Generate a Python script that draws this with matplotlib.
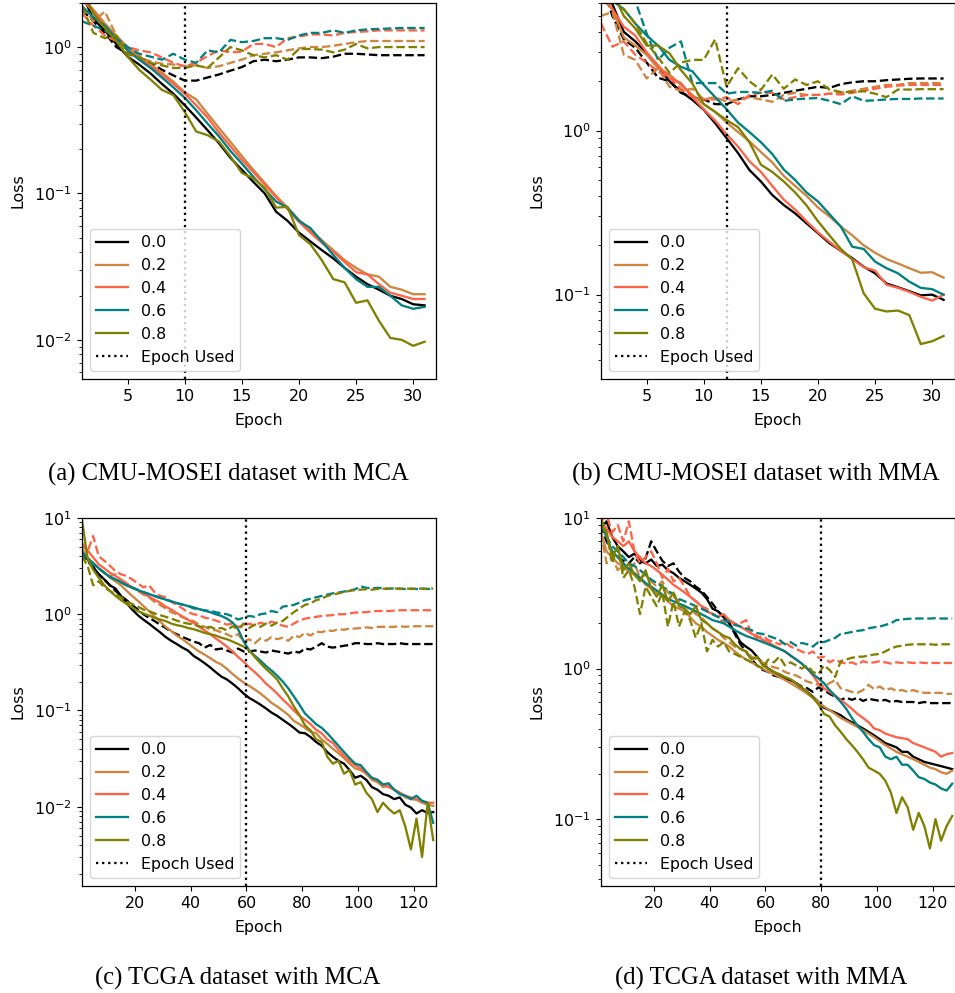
import matplotlib
matplotlib.use("Agg")
import matplotlib.pyplot as plt

# dropout rates and their colours
rates = ["0.0", "0.2", "0.4", "0.6", "0.8"]
colors = ["black", "peru", "tomato", "teal", "olive"]

# epochs
ep_short = list(range(1, 32))
ep_long = list(range(1, 128, 2))

# (a) CMU-MOSEI, MCA  -- solid = train, dashed = validation
a_tr_00 = [2.3, 1.55, 1.3, 1.05, 0.86, 0.76, 0.66, 0.56, 0.48, 0.40, 0.33, 0.27, 0.22, 0.175, 0.145, 0.12, 0.1, 0.075, 0.065, 0.054, 0.047, 0.041, 0.036, 0.031, 0.027, 0.024, 0.022, 0.020, 0.019, 0.0175, 0.0172]
a_tr_02 = [2.2, 1.8, 1.45, 1.2, 1.0, 0.87, 0.76, 0.67, 0.58, 0.49, 0.44, 0.35, 0.28, 0.225, 0.18, 0.145, 0.118, 0.096, 0.08, 0.066, 0.056, 0.048, 0.041, 0.035, 0.031, 0.028, 0.027, 0.023, 0.022, 0.0205, 0.0205]
a_tr_04 = [2.1, 1.75, 1.4, 1.15, 0.95, 0.84, 0.74, 0.65, 0.56, 0.48, 0.40, 0.33, 0.26, 0.21, 0.17, 0.14, 0.115, 0.094, 0.078, 0.064, 0.054, 0.046, 0.040, 0.034, 0.029, 0.028, 0.024, 0.021, 0.020, 0.019, 0.019]
a_tr_06 = [1.9, 1.6, 1.4, 1.15, 0.95, 0.82, 0.72, 0.62, 0.53, 0.45, 0.37, 0.30, 0.245, 0.195, 0.16, 0.13, 0.107, 0.088, 0.08, 0.065, 0.058, 0.047, 0.038, 0.031, 0.026, 0.023, 0.023, 0.020, 0.0172, 0.0163, 0.0168]
a_tr_08 = [2.4, 1.7, 1.35, 1.1, 0.86, 0.70, 0.60, 0.51, 0.47, 0.36, 0.265, 0.25, 0.226, 0.179, 0.138, 0.127, 0.109, 0.08, 0.081, 0.052, 0.045, 0.035, 0.026, 0.0247, 0.0179, 0.0186, 0.0135, 0.0103, 0.010, 0.0091, 0.0097]
a_va_00 = [1.8, 1.5, 1.25, 1.0, 0.9, 0.85, 0.78, 0.7, 0.64, 0.59, 0.59, 0.62, 0.65, 0.69, 0.73, 0.8, 0.82, 0.8, 0.82, 0.85, 0.85, 0.84, 0.86, 0.9, 0.9, 0.89, 0.88, 0.88, 0.88, 0.88, 0.88]
a_va_02 = [1.9, 1.5, 1.75, 1.2, 0.95, 0.85, 0.8, 0.77, 0.76, 0.74, 0.75, 0.72, 0.74, 0.78, 0.82, 0.88, 0.9, 0.92, 0.95, 0.98, 1.0, 1.0, 1.02, 1.05, 1.08, 1.1, 1.1, 1.1, 1.1, 1.1, 1.1]
a_va_04 = [1.7, 1.4, 1.2, 1.1, 1.0, 0.95, 0.92, 0.85, 0.78, 0.74, 0.78, 0.87, 0.95, 0.92, 0.93, 1.05, 1.05, 1.0, 1.15, 1.18, 1.22, 1.22, 1.2, 1.25, 1.27, 1.28, 1.3, 1.3, 1.3, 1.3, 1.3]
a_va_06 = [1.5, 1.4, 1.3, 1.15, 1.0, 0.9, 0.86, 0.82, 0.9, 0.82, 0.78, 0.95, 0.92, 1.12, 1.08, 1.1, 1.15, 1.15, 1.12, 1.2, 1.25, 1.25, 1.3, 1.25, 1.3, 1.32, 1.33, 1.34, 1.35, 1.35, 1.35]
a_va_08 = [1.9, 1.25, 1.15, 1.2, 0.9, 0.85, 0.78, 0.75, 0.72, 0.72, 0.75, 0.72, 0.85, 1.0, 0.95, 0.88, 0.85, 0.88, 0.82, 0.97, 0.97, 0.96, 0.92, 0.96, 1.05, 0.98, 1.0, 1.0, 1.0, 1.0, 1.0]

# (b) CMU-MOSEI, MMA
b_tr_00 = [8.0, 5.9, 4.0, 3.5, 2.96, 2.45, 2.0, 1.73, 1.54, 1.34, 1.11, 0.9, 0.73, 0.575, 0.49, 0.405, 0.352, 0.313, 0.272, 0.237, 0.206, 0.185, 0.167, 0.148, 0.135, 0.117, 0.111, 0.105, 0.099, 0.1, 0.093]
b_tr_02 = [6.5, 5.5, 3.7, 3.3, 2.9, 2.4, 2.2, 1.9, 1.65, 1.45, 1.3, 1.12, 0.98, 0.86, 0.74, 0.64, 0.53, 0.46, 0.4, 0.34, 0.3, 0.26, 0.23, 0.2, 0.18, 0.165, 0.155, 0.145, 0.136, 0.137, 0.127]
b_tr_04 = [7.0, 5.5, 4.3, 3.8, 3.0, 2.5, 2.1, 1.95, 1.6, 1.35, 1.15, 0.95, 0.8, 0.65, 0.56, 0.46, 0.38, 0.33, 0.28, 0.24, 0.21, 0.185, 0.165, 0.147, 0.14, 0.115, 0.11, 0.104, 0.097, 0.092, 0.1]
b_tr_06 = [8.0, 6.2, 5.5, 4.5, 3.8, 3.3, 2.7, 2.45, 2.3, 1.9, 1.6, 1.35, 1.12, 0.98, 0.85, 0.72, 0.58, 0.5, 0.42, 0.37, 0.31, 0.26, 0.196, 0.19, 0.159, 0.145, 0.135, 0.12, 0.11, 0.108, 0.1]
b_tr_08 = [8.0, 7.0, 5.0, 4.2, 3.3, 3.3, 2.96, 2.34, 1.94, 1.45, 1.3, 1.16, 1.05, 0.85, 0.62, 0.56, 0.49, 0.42, 0.35, 0.28, 0.23, 0.19, 0.164, 0.102, 0.082, 0.079, 0.08, 0.075, 0.05, 0.052, 0.056]
b_va_00 = [8.0, 5.0, 3.6, 3.2, 2.6, 2.1, 2.0, 1.7, 1.6, 1.55, 1.45, 1.45, 1.55, 1.62, 1.62, 1.65, 1.7, 1.75, 1.8, 1.85, 1.82, 1.92, 1.97, 2.0, 2.0, 2.03, 2.05, 2.07, 2.08, 2.08, 2.08]
b_va_02 = [5.0, 5.3, 2.9, 2.7, 2.08, 2.4, 1.85, 1.75, 1.8, 1.55, 1.6, 1.5, 1.55, 1.6, 1.55, 1.5, 1.65, 1.7, 1.65, 1.65, 1.68, 1.7, 1.75, 1.8, 1.85, 1.9, 1.9, 1.95, 1.95, 1.95, 1.95]
b_va_04 = [4.5, 3.25, 3.5, 2.9, 2.6, 2.3, 2.1, 1.8, 1.6, 1.55, 1.55, 1.6, 1.45, 1.65, 1.7, 1.7, 1.55, 1.6, 1.65, 1.65, 1.68, 1.66, 1.7, 1.75, 1.8, 1.85, 1.88, 1.9, 1.9, 1.9, 1.9]
b_va_06 = [9.0, 7.5, 6.5, 6.2, 3.9, 2.7, 3.2, 3.5, 1.95, 1.95, 1.95, 1.68, 1.72, 1.72, 1.7, 1.75, 1.52, 1.55, 1.57, 1.58, 1.52, 1.45, 1.62, 1.52, 1.53, 1.55, 1.56, 1.56, 1.57, 1.57, 1.57]
b_va_08 = [7.0, 6.5, 5.5, 4.5, 3.4, 2.8, 2.25, 2.6, 2.7, 2.7, 3.6, 1.85, 2.4, 2.0, 1.77, 2.2, 1.8, 2.05, 1.9, 2.0, 1.78, 1.72, 1.72, 1.74, 1.68, 1.6, 1.78, 1.78, 1.79, 1.79, 1.79]

# (c) TCGA, MCA  (every second epoch)
c_tr_00 = [4.5, 3.7, 3.1, 2.6, 2.3, 2.0, 1.85, 1.55, 1.3, 1.12,
           0.98, 0.88, 0.8, 0.72, 0.65, 0.58, 0.53, 0.49, 0.45, 0.42,
           0.37, 0.34, 0.31, 0.28, 0.25, 0.225, 0.21, 0.19, 0.17, 0.15,
           0.135, 0.125, 0.115, 0.105, 0.095, 0.088, 0.08, 0.073, 0.066, 0.059,
           0.058, 0.053, 0.047, 0.043, 0.037, 0.033, 0.03, 0.028, 0.024, 0.02,
           0.021, 0.019, 0.016, 0.015, 0.0135, 0.013, 0.012, 0.0125, 0.0105, 0.0098,
           0.0085, 0.0092, 0.0086, 0.0088]
c_tr_02 = [4.8, 3.9, 3.4, 3.0, 2.7, 2.4, 2.2, 2.0, 1.75, 1.55,
           1.38, 1.22, 1.08, 0.95, 0.84, 0.74, 0.67, 0.6, 0.55, 0.5,
           0.45, 0.41, 0.38, 0.35, 0.32, 0.3, 0.27, 0.24, 0.215, 0.195,
           0.18, 0.165, 0.15, 0.135, 0.12, 0.11, 0.1, 0.09, 0.078, 0.072,
           0.066, 0.06, 0.058, 0.05, 0.045, 0.04, 0.036, 0.032, 0.028, 0.025,
           0.024, 0.022, 0.019, 0.018, 0.016, 0.0165, 0.015, 0.014, 0.0125, 0.012,
           0.0118, 0.011, 0.0105, 0.0102]
c_tr_04 = [5.2, 4.6, 3.9, 3.3, 3.0, 2.7, 2.5, 2.3, 2.1, 1.9,
           1.78, 1.65, 1.52, 1.42, 1.32, 1.2, 1.12, 1.03, 0.95, 0.88,
           0.81, 0.74, 0.68, 0.62, 0.56, 0.51, 0.46, 0.41, 0.36, 0.32,
           0.28, 0.25, 0.22, 0.19, 0.17, 0.15, 0.13, 0.115, 0.1, 0.088,
           0.08, 0.072, 0.063, 0.058, 0.05, 0.046, 0.039, 0.034, 0.03, 0.027,
           0.025, 0.022, 0.02, 0.019, 0.017, 0.016, 0.015, 0.014, 0.013, 0.0125,
           0.012, 0.0115, 0.011, 0.011]
c_tr_06 = [4.3, 3.8, 3.4, 3.0, 2.7, 2.45, 2.3, 2.15, 2.0, 1.88,
           1.78, 1.7, 1.62, 1.55, 1.48, 1.42, 1.36, 1.31, 1.26, 1.22,
           1.18, 1.13, 1.09, 1.05, 1.0, 0.96, 0.9, 0.82, 0.7, 0.52,
           0.42, 0.37, 0.33, 0.29, 0.26, 0.23, 0.2, 0.17, 0.14, 0.115,
           0.093, 0.082, 0.072, 0.066, 0.058, 0.05, 0.043, 0.037, 0.032, 0.028,
           0.027, 0.023, 0.02, 0.019, 0.017, 0.0175, 0.015, 0.0135, 0.013, 0.012,
           0.013, 0.0115, 0.011, 0.0068]
c_tr_08 = [9.5, 3.8, 2.9, 2.4, 2.0, 1.75, 1.55, 1.4, 1.28, 1.18,
           1.08, 1.02, 0.97, 0.92, 0.88, 0.85, 0.8, 0.77, 0.75, 0.72,
           0.7, 0.67, 0.64, 0.62, 0.6, 0.57, 0.55, 0.52, 0.49, 0.46,
           0.42, 0.36, 0.31, 0.27, 0.24, 0.21, 0.17, 0.14, 0.11, 0.09,
           0.07, 0.062, 0.05, 0.047, 0.033, 0.028, 0.03, 0.022, 0.024, 0.017,
           0.018, 0.014, 0.012, 0.0088, 0.011, 0.0095, 0.0085, 0.0092, 0.0062, 0.0036,
           0.0075, 0.003, 0.011, 0.0045]
c_va_00 = [4.4, 3.6, 3.0, 2.6, 2.3, 2.0, 1.75, 1.55, 1.4, 1.25,
           1.12, 1.0, 0.92, 0.85, 0.78, 0.72, 0.66, 0.62, 0.58, 0.55,
           0.52, 0.5, 0.45, 0.48, 0.43, 0.44, 0.42, 0.4, 0.44, 0.41,
           0.41, 0.42, 0.41, 0.4, 0.42, 0.41, 0.4, 0.39, 0.41, 0.4,
           0.44, 0.43, 0.46, 0.5, 0.46, 0.45, 0.46, 0.47, 0.48, 0.5,
           0.5, 0.49, 0.49, 0.5, 0.49, 0.49, 0.49, 0.5, 0.49, 0.49,
           0.49, 0.49, 0.49, 0.49]
c_va_02 = [4.6, 3.8, 3.3, 3.0, 2.7, 2.5, 2.6, 2.2, 2.0, 1.9,
           1.75, 1.6, 1.5, 1.35, 1.25, 1.15, 1.05, 1.0, 0.93, 0.88,
           0.85, 0.78, 0.74, 0.7, 0.68, 0.65, 0.62, 0.58, 0.62, 0.52,
           0.55, 0.5, 0.56, 0.53, 0.58, 0.55, 0.57, 0.53, 0.6, 0.58,
           0.64, 0.6, 0.66, 0.65, 0.68, 0.67, 0.7, 0.69, 0.71, 0.71,
           0.72, 0.73, 0.72, 0.74, 0.74, 0.74, 0.74, 0.75, 0.74, 0.75,
           0.75, 0.75, 0.75, 0.75]
c_va_04 = [5.5, 4.5, 6.5, 4.0, 3.6, 3.2, 2.8, 2.6, 2.5, 2.3,
           2.1, 1.9, 2.0, 1.7, 1.55, 1.5, 1.35, 1.25, 1.15, 1.05,
           1.0, 0.98, 0.92, 0.9, 0.86, 0.82, 0.78, 0.8, 0.74, 0.75,
           0.8, 0.76, 0.82, 0.78, 0.84, 0.8, 0.76, 0.74, 0.8, 0.86,
           0.9, 0.92, 0.94, 0.96, 0.97, 0.98, 1.0, 1.0, 1.02, 1.04,
           1.05, 1.05, 1.07, 1.08, 1.08, 1.08, 1.09, 1.1, 1.1, 1.1,
           1.1, 1.1, 1.1, 1.1]
c_va_06 = [4.4, 3.8, 3.3, 3.0, 2.7, 2.45, 2.3, 2.15, 2.0, 1.9,
           1.8, 1.7, 1.62, 1.55, 1.48, 1.42, 1.36, 1.3, 1.26, 1.22,
           1.15, 1.12, 1.1, 1.08, 1.05, 1.02, 1.0, 0.95, 0.88, 0.92,
           0.96, 0.94, 1.0, 1.02, 1.08, 1.05, 1.2, 1.22, 1.25, 1.32,
           1.4, 1.45, 1.5, 1.55, 1.6, 1.65, 1.68, 1.72, 1.76, 1.82,
           1.95, 1.88, 1.86, 1.88, 1.86, 1.84, 1.86, 1.84, 1.83, 1.84,
           1.83, 1.84, 1.83, 1.84]
c_va_08 = [4.0, 3.2, 2.0, 2.2, 1.9, 1.75, 1.6, 1.5, 1.35, 1.28,
           1.2, 1.12, 1.08, 1.02, 0.98, 0.94, 0.9, 0.86, 0.82, 0.8,
           0.78, 0.75, 0.72, 0.74, 0.7, 0.72, 0.68, 0.75, 0.7, 0.8,
           0.72, 0.78, 0.74, 0.8, 0.76, 0.82, 0.85, 0.95, 1.05, 1.15,
           1.25, 1.3, 1.4, 1.45, 1.55, 1.6, 1.65, 1.7, 1.75, 1.78,
           1.8, 1.82, 1.8, 1.83, 1.84, 1.84, 1.85, 1.84, 1.85, 1.84,
           1.84, 1.85, 1.84, 1.85]

# (d) TCGA, MMA  (every second epoch)
d_tr_00 = [8.5, 9.5, 7.5, 6.5, 6.0, 5.5, 5.8, 5.2, 5.0, 5.3,
           4.8, 4.9, 4.5, 4.3, 4.0, 3.8, 3.6, 3.4, 3.2, 2.9,
           2.5, 2.4, 2.2, 2.0, 1.75, 1.5, 1.4, 1.32, 1.2, 1.08,
           1.0, 0.95, 0.9, 0.87, 0.84, 0.8, 0.74, 0.7, 0.65, 0.6,
           0.55, 0.53, 0.51, 0.49, 0.46, 0.44, 0.42, 0.4, 0.38, 0.36,
           0.34, 0.32, 0.31, 0.3, 0.28, 0.28, 0.26, 0.25, 0.24, 0.235,
           0.23, 0.225, 0.22, 0.215]
d_tr_02 = [8.0, 6.0, 5.5, 5.0, 4.8, 4.4, 4.2, 4.0, 3.6, 3.4,
           3.2, 3.0, 2.8, 2.6, 2.5, 2.4, 2.2, 2.0, 1.9, 1.75,
           1.65, 1.55, 1.48, 1.4, 1.3, 1.22, 1.15, 1.1, 1.05, 1.0,
           0.95, 0.92, 0.88, 0.84, 0.8, 0.76, 0.72, 0.68, 0.64, 0.6,
           0.56, 0.53, 0.5, 0.47, 0.45, 0.43, 0.41, 0.39, 0.37, 0.35,
           0.33, 0.31, 0.295, 0.28, 0.27, 0.26, 0.25, 0.24, 0.23, 0.22,
           0.215, 0.205, 0.2, 0.21]
d_tr_04 = [9.5, 8.5, 7.5, 7.0, 6.5, 7.0, 6.0, 5.5, 5.0, 4.8,
           4.5, 4.2, 3.9, 3.6, 3.4, 3.2, 3.0, 2.8, 2.6, 2.4,
           2.3, 2.2, 2.3, 2.1, 2.0, 1.9, 1.8, 1.7, 1.65, 1.55,
           1.5, 1.42, 1.36, 1.3, 1.22, 1.15, 1.08, 1.0, 0.9, 0.8,
           0.74, 0.7, 0.66, 0.62, 0.58, 0.54, 0.5, 0.47, 0.44, 0.4,
           0.39, 0.37, 0.36, 0.35, 0.345, 0.34, 0.32, 0.31, 0.3, 0.29,
           0.28, 0.26, 0.27, 0.275]
d_tr_06 = [9.0, 7.5, 6.0, 5.5, 5.0, 4.6, 4.3, 4.0, 3.7, 3.5,
           3.3, 3.1, 2.9, 2.8, 2.7, 2.6, 2.5, 2.4, 2.3, 2.2,
           2.1, 2.05, 2.0, 1.9, 1.8, 1.72, 1.65, 1.6, 1.55, 1.5,
           1.45, 1.4, 1.35, 1.3, 1.22, 1.15, 1.08, 1.0, 0.92, 0.86,
           0.8, 0.72, 0.66, 0.6, 0.54, 0.47, 0.42, 0.38, 0.34, 0.31,
           0.3, 0.26, 0.25, 0.26, 0.23, 0.23, 0.21, 0.19, 0.185, 0.175,
           0.17, 0.16, 0.155, 0.172]
d_tr_08 = [9.0, 8.0, 5.5, 6.5, 4.5, 5.0, 4.2, 3.8, 4.5, 3.4,
           3.0, 3.6, 2.8, 3.2, 2.6, 2.5, 2.3, 2.6, 2.1, 2.0,
           1.85, 1.75, 1.65, 1.6, 1.45, 1.35, 1.3, 1.15, 1.2, 1.05,
           1.0, 0.95, 0.92, 0.88, 0.85, 0.8, 0.75, 0.7, 0.64, 0.58,
           0.5, 0.48, 0.42, 0.38, 0.34, 0.31, 0.28, 0.25, 0.22, 0.21,
           0.2, 0.18, 0.15, 0.11, 0.14, 0.12, 0.085, 0.11, 0.09, 0.064,
           0.1, 0.072, 0.09, 0.105]
d_va_00 = [9.0, 7.0, 6.0, 5.5, 5.2, 5.0, 5.5, 5.0, 5.4, 7.0,
           6.0, 5.2, 4.8, 5.0, 4.4, 4.0, 3.8, 3.5, 3.3, 3.0,
           2.7, 2.4, 2.2, 2.0, 1.7, 1.45, 1.3, 1.15, 1.05, 0.98,
           0.95, 0.9, 0.88, 0.85, 0.84, 0.8, 0.76, 0.74, 0.7, 0.75,
           0.72, 0.68, 0.65, 0.62, 0.64, 0.62, 0.64, 0.61, 0.63, 0.62,
           0.61, 0.62, 0.6, 0.61, 0.6, 0.6, 0.6, 0.59, 0.6, 0.59,
           0.59, 0.59, 0.59, 0.59]
d_va_02 = [8.0, 5.0, 5.5, 4.5, 5.0, 4.5, 5.0, 4.0, 4.2, 3.8,
           3.5, 3.8, 3.2, 3.0, 2.8, 2.6, 2.5, 2.3, 2.2, 2.0,
           1.85, 1.75, 1.6, 1.5, 1.4, 1.35, 1.3, 1.2, 1.15, 1.1,
           1.05, 1.02, 1.0, 0.95, 0.92, 0.9, 0.86, 0.82, 0.8, 0.78,
           0.76, 0.8, 0.84, 0.74, 0.72, 0.7, 0.69, 0.72, 0.78, 0.73,
           0.76, 0.72, 0.74, 0.71, 0.72, 0.7, 0.72, 0.7, 0.69, 0.69,
           0.69, 0.69, 0.68, 0.68]
d_va_04 = [9.5, 10.5, 8.0, 9.0, 7.0, 9.5, 6.0, 5.0, 5.5, 6.0,
           5.0, 4.0, 4.6, 3.8, 4.0, 3.5, 3.0, 2.8, 2.6, 2.5,
           2.3, 2.2, 2.0, 2.1, 1.95, 2.0, 2.1, 1.7, 1.6, 1.65,
           1.55, 1.5, 1.45, 1.5, 1.4, 1.35, 1.3, 1.25, 1.3, 1.18,
           1.2, 1.1, 1.15, 1.1, 1.08, 1.1, 1.06, 1.12, 1.09, 1.1,
           1.12, 1.1, 1.08, 1.1, 1.09, 1.1, 1.09, 1.1, 1.09, 1.09,
           1.09, 1.09, 1.09, 1.09]
d_va_06 = [9.0, 7.5, 6.5, 6.0, 5.5, 5.0, 4.8, 4.5, 4.2, 3.9,
           3.7, 3.5, 3.3, 3.1, 2.9, 2.8, 2.7, 2.6, 2.5, 2.4,
           2.3, 2.2, 2.1, 2.05, 1.95, 1.9, 1.85, 1.8, 1.72, 1.7,
           1.65, 1.6, 1.55, 1.45, 1.5, 1.42, 1.48, 1.45, 1.4, 1.5,
           1.5, 1.55, 1.6, 1.7, 1.72, 1.75, 1.78, 1.8, 1.85, 1.88,
           1.9, 1.95, 2.0, 2.1, 2.12, 2.14, 2.15, 2.15, 2.15, 2.15,
           2.16, 2.15, 2.15, 2.15]
d_va_08 = [10.0, 8.0, 5.0, 6.5, 4.0, 4.5, 3.5, 2.3, 3.5, 3.0,
           2.6, 3.2, 1.9, 2.8, 1.9, 2.4, 2.1, 1.6, 2.0, 1.3,
           1.55, 1.4, 1.5, 1.3, 1.25, 1.2, 1.15, 1.1, 1.05, 1.0,
           1.15, 1.1, 1.2, 1.05, 1.1, 1.05, 1.0, 1.05, 0.95, 0.92,
           1.05, 0.98, 0.88, 1.12, 1.15, 1.18, 1.2, 1.2, 1.22, 1.24,
           1.25, 1.3, 1.36, 1.4, 1.42, 1.44, 1.45, 1.45, 1.45, 1.45,
           1.44, 1.45, 1.45, 1.45]

plt.rcParams["font.size"] = 11.4
plt.rcParams["lines.linewidth"] = 1.65
plt.rcParams["axes.linewidth"] = 0.9
plt.rcParams["xtick.major.size"] = 3.9
plt.rcParams["ytick.major.size"] = 3.9
plt.rcParams["xtick.minor.size"] = 2.2
plt.rcParams["ytick.minor.size"] = 2.2


def panel(ax, ep, trains, vals, used, ylim, xlim):
    for tr, va, r, c in zip(trains, vals, rates, colors):
        ax.plot(ep, tr, color=c, label=r)
        ax.plot(ep, va, color=c, linestyle="--")
    ax.axvline(used, color="black", linestyle=":", label="Epoch Used")
    ax.set_yscale("log")
    ax.set_ylim(ylim)
    ax.set_xlim(xlim)
    ax.set_xlabel("Epoch", labelpad=6.5)
    ax.set_ylabel("Loss", labelpad=6)
    ax.legend(loc="lower left")


fig = plt.figure(figsize=(9.55, 9.93), dpi=100)

W, H = 955.0, 993.0
ax_a = fig.add_axes([82 / W, 1 - 379 / H, 354 / W, 376 / H])
ax_b = fig.add_axes([601 / W, 1 - 379 / H, 354 / W, 376 / H])
ax_c = fig.add_axes([82 / W, 1 - 886 / H, 354 / W, 368 / H])
ax_d = fig.add_axes([601 / W, 1 - 886 / H, 354 / W, 368 / H])

panel(ax_a, ep_short, [a_tr_00, a_tr_02, a_tr_04, a_tr_06, a_tr_08],
      [a_va_00, a_va_02, a_va_04, a_va_06, a_va_08], 10, (0.0054, 2.0), (1, 32))
panel(ax_b, ep_short, [b_tr_00, b_tr_02, b_tr_04, b_tr_06, b_tr_08],
      [b_va_00, b_va_02, b_va_04, b_va_06, b_va_08], 12, (0.0306, 6.0), (1, 32))
panel(ax_c, ep_long, [c_tr_00, c_tr_02, c_tr_04, c_tr_06, c_tr_08],
      [c_va_00, c_va_02, c_va_04, c_va_06, c_va_08], 60, (0.0015, 10), (1, 128))
panel(ax_d, ep_long, [d_tr_00, d_tr_02, d_tr_04, d_tr_06, d_tr_08],
      [d_va_00, d_va_02, d_va_04, d_va_06, d_va_08], 80, (0.036, 10), (1, 128))

cap = dict(family="Liberation Serif", fontsize=17.7, ha="center", va="center")
fig.text(228 / W, 1 - 474 / H, "(a) CMU-MOSEI dataset with MCA", **cap)
fig.text(756 / W, 1 - 474 / H, "(b) CMU-MOSEI dataset with MMA", **cap)
fig.text(238 / W, 1 - 978 / H, "(c) TCGA dataset with MCA", **cap)
fig.text(761 / W, 1 - 978 / H, "(d) TCGA dataset with MMA", **cap)

fig.savefig("out.png", dpi=100)
